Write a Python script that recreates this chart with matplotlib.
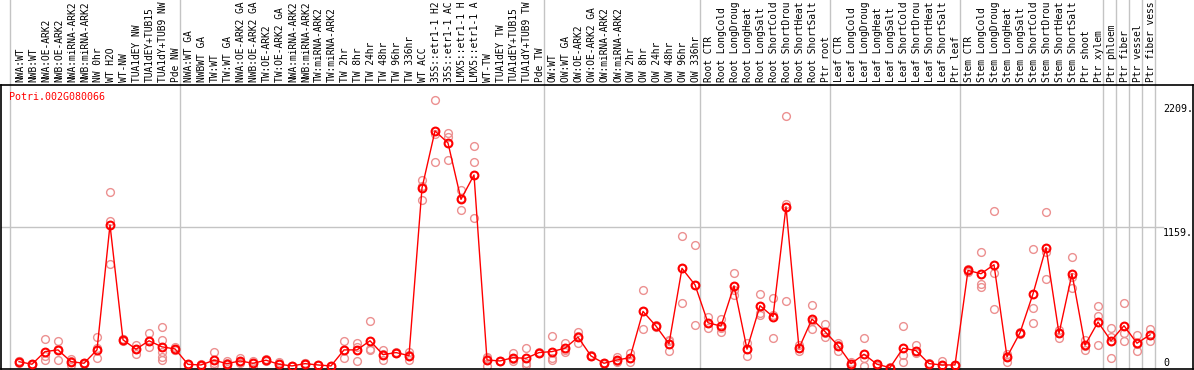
import matplotlib
matplotlib.use("Agg")
import matplotlib.pyplot as plt

gene_id = "Potri.002G080066"

labels = [
    "NWA:WT", "NWB:WT", "NWA:OE-ARK2", "NWB:OE-ARK2", "NWA:miRNA-ARK2", "NWB:miRNA-ARK2",
    "NW 0hr", "WT H2O", "WT-NW", "TUA1dEY NW", "TUA1dEY+TUB15", "TUA1dY+TUB9 NW", "Pde NW",
    "NWA:WT GA", "NWBWT GA", "TW:WT", "TW:WT GA", "NWA:OE-ARK2 GA", "NWB:OE-ARK2 GA",
    "TW:OE-ARK2", "TW:OE-ARK2 GA", "NWA:miRNA-ARK2", "NWB:miRNA-ARK2", "TW:miRNA-ARK2",
    "TW:miRNA-ARK2", "TW 2hr", "TW 8hr", "TW 24hr", "TW 48hr", "TW 96hr", "TW 336hr",
    "WT ACC", "35S::etr1-1 H2", "35S::etr1-1 AC", "LMX5::etr1-1 H", "LMX5::etr1-1 A",
    "WT-TW", "TUA1dEY TW", "TUA1dEY+TUB15", "TUA1dY+TUB9 TW", "Pde TW",
    "OW:WT", "OW:WT GA", "OW:OE-ARK2", "OW:OE-ARK2 GA", "OW:miRNA-ARK2", "OW:miRNA-ARK2",
    "OW 2hr", "OW 8hr", "OW 24hr", "OW 48hr", "OW 96hr", "OW 336hr",
    "Root CTR", "Root LongCold", "Root LongDroug", "Root LongHeat", "Root LongSalt",
    "Root ShortCold", "Root ShortDrou", "Root ShortHeat", "Root ShortSalt", "Ptr root",
    "Leaf CTR", "Leaf LongCold", "Leaf LongDroug", "Leaf LongHeat", "Leaf LongSalt",
    "Leaf ShortCold", "Leaf ShortDrou", "Leaf ShortHeat", "Leaf ShortSalt", "Ptr leaf",
    "Stem CTR", "Stem LongCold", "Stem LongDroug", "Stem LongHeat", "Stem LongSalt",
    "Stem ShortCold", "Stem ShortDrou", "Stem ShortHeat", "Stem ShortSalt", "Ptr shoot",
    "Ptr xylem", "Ptr phloem", "Ptr fiber", "Ptr vessel", "Ptr fiber vess",
]

means = [
    52, 31, 135, 149, 52, 39, 149, 1178, 232, 155, 224, 174, 157,
    30, 25, 64, 36, 58, 39, 64, 31, 17, 36, 25, 17, 149, 149, 224, 110, 127, 102,
    1482, 1951, 1852, 1388, 1589, 66, 58, 85, 80, 127,
    135, 163, 254, 99, 39, 66, 85, 466, 345, 199, 820, 684,
    372, 345, 676, 155, 513, 422, 1327, 163, 403, 300,
    185, 36, 113, 31, 3, 163, 143, 36, 25, 25,
    803, 776, 850, 91, 290, 610, 991, 284, 776, 188, 378,
    224, 348, 204, 273,
]

replicates = [
    [45, 55, 60], [25, 35, 30], [237, 66, 100], [224, 64, 160], [75, 25, 57],
    [38, 42, 35], [257, 168, 80], [1446, 1211, 858], [220, 240, 235], [193, 113, 155],
    [290, 224, 171], [339, 232, 135, 94, 64], [174, 150, 147],
    [30, 35, 25], [20, 30, 25], [135, 25, 40], [58, 11, 40], [85, 50, 40],
    [11, 45, 60], [75, 55, 62], [11, 50, 32], [15, 20, 16], [30, 40, 38],
    [25, 22, 28], [17, 15, 20], [224, 80, 149], [204, 58, 174], [389, 146, 155],
    [149, 66, 113], [127, 120, 135], [135, 66, 105], [1548, 1501, 1385],
    [2209, 1929, 1695], [1935, 1902, 1714], [1465, 1302, 1400], [1827, 1695, 1231],
    [94, 17, 85], [55, 60, 58], [122, 58, 75], [163, 25, 45], [127, 120, 133],
    [265, 66, 80], [204, 135, 150], [300, 204, 260], [99, 95, 105], [39, 35, 45],
    [88, 50, 60], [127, 50, 80], [646, 320, 466], [345, 340, 350], [224, 143, 230],
    [1090, 535, 820], [1016, 356, 684],
    [416, 328, 372], [405, 300, 330], [784, 604, 640], [209, 102, 155], [610, 453, 439],
    [577, 246, 440], [2075, 552, 1350], [190, 143, 163], [521, 323, 390], [362, 254, 290],
    [204, 143, 190], [17, 36, 50], [246, 17, 80], [35, 20, 31], [3, 5, 2],
    [348, 108, 52], [190, 122, 140], [40, 30, 36], [58, 20, 25], [25, 20, 28],
    [801, 790, 815], [952, 695, 665], [1289, 784, 488], [113, 47, 100], [290, 280, 300],
    [977, 494, 370], [1281, 954, 734], [315, 246, 290], [916, 751, 660], [232, 149, 185],
    [513, 430, 190],
    [328, 259, 80], [535, 287, 224], [273, 143, 200], [320, 226, 273],
]

# group separators (after these column indices)
separators_after = [12, 40, 52, 62, 72, 83, 84, 85, 86, 87]
y_ticks = [2209, 1159, 0]
y_tick_text = ["2209.", "1159.", "0"]
grid_value = 1159

W, H = 1194, 370
fig = plt.figure(figsize=(W / 100, H / 100), dpi=100)
fig.patch.set_facecolor("white")
ax = fig.add_axes([1 / W, 1 / H, 1192 / W, 284 / H])

mono = "DejaVu Sans Mono"
xs = list(range(len(labels)))

# replicate points
rx, ry = [], []
for i, reps in enumerate(replicates):
    for v in reps:
        rx.append(i)
        ry.append(v)
ax.plot(rx, ry, linestyle="none", marker="o", markersize=5.6, markerfacecolor="none",
        markeredgecolor="#ec9090", markeredgewidth=1.0, zorder=2)

# mean line + markers
ax.plot(xs, means, color="#ff0000", lw=1.0, zorder=3)
ax.plot(xs, means, linestyle="none", marker="o", markersize=5.6, markerfacecolor="none",
        markeredgecolor="#ff0000", markeredgewidth=1.5, zorder=4)

# axes limits (pixel mapping: column i at 19+13*i px; value 0 at y=368 px)
ax.set_xlim(-18 / 13, (1193 - 19) / 13)
ax.set_ylim(-1 / 0.1215, (368 - 85) / 0.1215)
ax.set_xticks([])
ax.set_yticks([])
for s in ax.spines.values():
    s.set_color("black")
    s.set_linewidth(1.2)

# grid lines
ax.axhline(grid_value, xmin=0, xmax=(1163 - 1) / 1192, color="#c4c4c4", lw=1.0, zorder=1)
top_ext = 1 + 85 / 284 + 0.02
ax.axvline(-0.7, ymin=0, ymax=top_ext, color="#c4c4c4", lw=1.0, clip_on=False, zorder=1)
for s in separators_after:
    ax.axvline(s + 0.4, ymin=0, ymax=top_ext, color="#c4c4c4", lw=1.0, clip_on=False, zorder=1)

# column labels
for i, lab in enumerate(labels):
    ax.annotate(lab, xy=(i, 1), xycoords=("data", "axes fraction"), xytext=(1, 3),
                textcoords="offset pixels", rotation=90, ha="center", va="bottom",
                fontsize=6.9, family=mono, color="black", annotation_clip=False)

# title
ax.text((9.5 - 1) / 1192, (369 - 97) / 284, gene_id, transform=ax.transAxes,
        color="#ff0000", fontsize=7.2, family=mono, ha="left", va="center")

# y labels on the right
offsets = {2209: -4, 1159: -1, 0: 10}
for v, t in zip(y_ticks, y_tick_text):
    ax.annotate(t, xy=(1, v), xycoords=("axes fraction", "data"), xytext=(-30, offsets[v]),
                textcoords="offset pixels", ha="left", va="top", fontsize=7.2,
                family=mono, color="black", annotation_clip=False)

fig.savefig("out.png", dpi=100)
